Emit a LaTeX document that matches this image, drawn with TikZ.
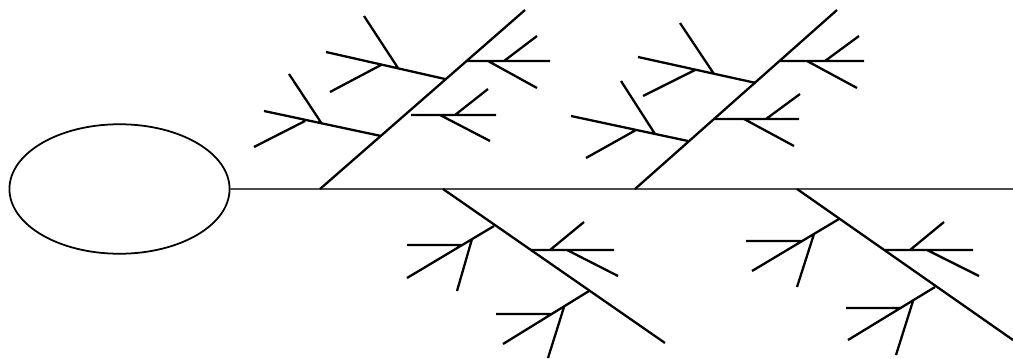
\documentclass[tikz,border=0pt]{standalone}
\usepackage{tikz}
\usetikzlibrary{shapes.geometric}
\tikzset{
  bone/.style={line width=1.3pt,black},
  spine/.style={line width=1.2pt,black!70},
  head/.style={draw,ellipse,line width=1pt,minimum width=125.3pt,minimum height=73.7pt,inner sep=0pt}
}
\begin{document}
\begin{tikzpicture}[x=0.02cm,y=-0.02cm]
\useasboundingbox (0,0) rectangle (1013,358);
\node[head] (head) at (119.5,189) {};
\coordinate (tail) at (1013,189);
\draw[spine] (head.east) -- (tail);
% upper bones
\coordinate (ua) at (320,189); \coordinate (ub) at (635,189);
\draw[bone] (ua) -- (525,10);
\draw[bone] (381,136) -- (264,111) (322,124) -- (289,74) (305,121) -- (254,147);
\draw[bone] (445,79) -- (326,52) (398,68) -- (364,16) (381,65) -- (330,92);
\draw[bone] (467,61) -- (550,61) (504,61) -- (537,36) (488,61) -- (537,88);
\draw[bone] (411,115) -- (496,115) (455,115) -- (488,89) (440,115) -- (490,141);
\draw[bone] (ub) -- (837,10);
\draw[bone] (688,141) -- (571,116) (655,134) -- (621,81) (636,130) -- (586,158);
\draw[bone] (756,83) -- (638,57) (714,74) -- (680,23) (695,70) -- (643,96);
\draw[bone] (780,61) -- (864,61) (825,61) -- (859,36) (807,61) -- (857,88);
\draw[bone] (715,119) -- (799,119) (766,119) -- (800,94) (744,119) -- (794,146);
% lower bones
\coordinate (la) at (443,189); \coordinate (lb) at (797,189);
\draw[bone] (la) -- (665,343);
\draw[bone] (494,226) -- (407,278) (472,239) -- (457,291) (407,245) -- (462,245);
\draw[bone] (530,250) -- (614,250) (550,250) -- (584,222) (567,250) -- (618,276);
\draw[bone] (589,291) -- (503,344) (564,307) -- (548,358) (496,314) -- (551,314);
\draw[bone] (lb) -- (1013,340);
\draw[bone] (839,219) -- (752,271) (814,234) -- (797,287) (746,241) -- (801,241);
\draw[bone] (885,250) -- (973,250) (910,250) -- (944,222) (927,250) -- (979,276);
\draw[bone] (935,287) -- (848,340) (913,301) -- (896,355) (846,308) -- (901,308);
\end{tikzpicture}
\end{document}
